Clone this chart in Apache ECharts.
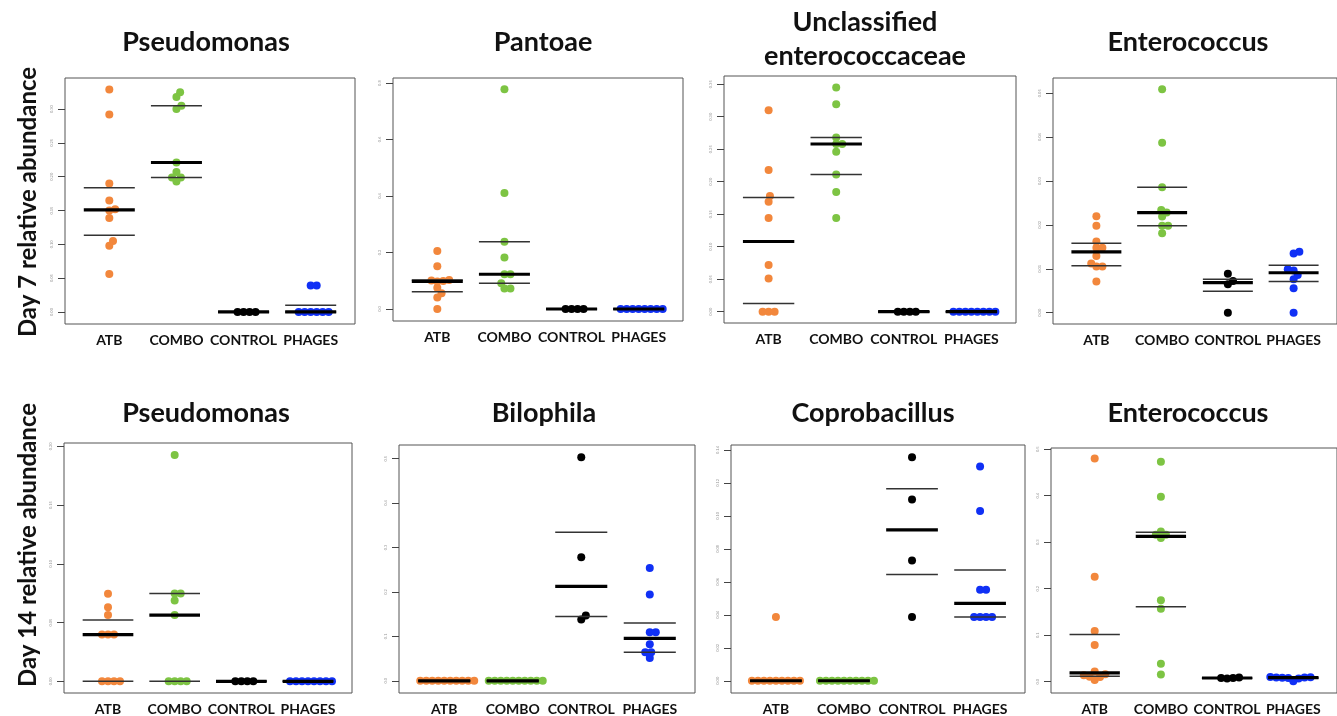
<!DOCTYPE html>
<html><head><meta charset="utf-8">
<script src="https://cdn.jsdelivr.net/npm/echarts@6/dist/echarts.min.js"></script>
<style>html,body{margin:0;padding:0;background:#fff}#c{width:1337px;height:716px}</style>
</head><body><div id="c"></div>
<script>
// ---------- DATA ----------
const groups = ['ATB', 'COMBO', 'CONTROL', 'PHAGES'];
const panelTitles = ['Pseudomonas', 'Pantoae', 'Unclassified\nenterococcaceae', 'Enterococcus',
                     'Pseudomonas', 'Bilophila', 'Coprobacillus', 'Enterococcus'];
const rowTitles = ['Day 7 relative abundance', 'Day 14 relative abundance'];

// Day 7 - Pseudomonas
const d7PseudoATB = [0.329, 0.292, 0.190, 0.165, 0.152, 0.150, 0.139, 0.105, 0.098, 0.056];
const d7PseudoCOMBO = [0.325, 0.318, 0.305, 0.300, 0.221, 0.207, 0.199, 0.199, 0.193];
const d7PseudoCONTROL = [0, 0, 0, 0];
const d7PseudoPHAGES = [0.039, 0.039, 0, 0, 0, 0, 0, 0];
const d7PseudoTicks = [0, 0.05, 0.10, 0.15, 0.20, 0.25, 0.30];

// Day 7 - Pantoae
const d7PantoATB = [0.205, 0.151, 0.103, 0.101, 0.099, 0.097, 0.075, 0.056, 0.041, 0];
const d7PantoCOMBO = [0.778, 0.411, 0.238, 0.182, 0.123, 0.123, 0.091, 0.073, 0.073];
const d7PantoCONTROL = [0, 0, 0, 0];
const d7PantoPHAGES = [0, 0, 0, 0, 0, 0, 0, 0];
const d7PantoTicks = [0, 0.2, 0.4, 0.6, 0.8];

// Day 7 - Unclassified enterococcaceae
const d7EnterocATB = [0.310, 0.218, 0.178, 0.169, 0.144, 0.072, 0.051, 0, 0, 0];
const d7EnterocCOMBO = [0.345, 0.319, 0.268, 0.258, 0.258, 0.246, 0.211, 0.184, 0.144];
const d7EnterocCONTROL = [0, 0, 0, 0];
const d7EnterocPHAGES = [0, 0, 0, 0, 0, 0, 0, 0];
const d7EnterocTicks = [0, 0.05, 0.10, 0.15, 0.20, 0.25, 0.30, 0.35];

// Day 7 - Enterococcus
const d7EntATB = [0.0220, 0.0198, 0.0162, 0.0148, 0.0148, 0.0129, 0.0112, 0.0105, 0.0105, 0.0071];
const d7EntCOMBO = [0.0509, 0.0387, 0.0286, 0.0234, 0.0228, 0.0219, 0.0198, 0.0198, 0.0181];
const d7EntCONTROL = [0.0089, 0.0072, 0.0065, 0];
const d7EntPHAGES = [0.0139, 0.0135, 0.0099, 0.0096, 0.0086, 0.0076, 0.0056, 0];
const d7EntTicks = [0, 0.01, 0.02, 0.03, 0.04, 0.05];

// Day 14 - Pseudomonas
const d14PseudoATB = [0.0746, 0.063, 0.0564, 0.0398, 0.0398, 0.0398, 0, 0, 0, 0];
const d14PseudoCOMBO = [0.1926, 0.0748, 0.0748, 0.0689, 0.0564, 0, 0, 0, 0];
const d14PseudoCONTROL = [0, 0, 0, 0];
const d14PseudoPHAGES = [0, 0, 0, 0, 0, 0, 0, 0];
const d14PseudoTicks = [0, 0.05, 0.10, 0.15, 0.20];

// Day 14 - Bilophila
const d14BiloATB = [0, 0, 0, 0, 0, 0, 0, 0, 0, 0];
const d14BiloCOMBO = [0, 0, 0, 0, 0, 0, 0, 0, 0, 0];
const d14BiloCONTROL = [0.503, 0.278, 0.1467, 0.138];
const d14BiloPHAGES = [0.254, 0.194, 0.109, 0.109, 0.082, 0.064, 0.064, 0.051];
const d14BiloTicks = [0, 0.1, 0.2, 0.3, 0.4, 0.5];

// Day 14 - Coprobacillus
const d14CoproATB = [0.0387, 0, 0, 0, 0, 0, 0, 0, 0, 0];
const d14CoproCOMBO = [0, 0, 0, 0, 0, 0, 0, 0, 0, 0];
const d14CoproCONTROL = [0.1356, 0.110, 0.073, 0.0387];
const d14CoproPHAGES = [0.130, 0.103, 0.0552, 0.0552, 0.0387, 0.0387, 0.0387, 0.0387];
const d14CoproTicks = [0, 0.02, 0.04, 0.06, 0.08, 0.10, 0.12, 0.14];

// Day 14 - Enterococcus
const d14EntATB = [0.480, 0.226, 0.109, 0.079, 0.022, 0.016, 0.014, 0.011, 0.010, 0.004];
const d14EntCOMBO = [0.473, 0.398, 0.323, 0.316, 0.316, 0.309, 0.175, 0.157, 0.0385, 0.0158];
const d14EntCONTROL = [0.009, 0.008, 0.008, 0.007];
const d14EntPHAGES = [0.010, 0.0095, 0.009, 0.009, 0.0085, 0.008, 0.007, 0.001];
const d14EntTicks = [0, 0.1, 0.2, 0.3, 0.4, 0.5];

// ---------- LAYOUT / STYLE ----------
const panelsData = [
  [d7PseudoATB, d7PseudoCOMBO, d7PseudoCONTROL, d7PseudoPHAGES],
  [d7PantoATB, d7PantoCOMBO, d7PantoCONTROL, d7PantoPHAGES],
  [d7EnterocATB, d7EnterocCOMBO, d7EnterocCONTROL, d7EnterocPHAGES],
  [d7EntATB, d7EntCOMBO, d7EntCONTROL, d7EntPHAGES],
  [d14PseudoATB, d14PseudoCOMBO, d14PseudoCONTROL, d14PseudoPHAGES],
  [d14BiloATB, d14BiloCOMBO, d14BiloCONTROL, d14BiloPHAGES],
  [d14CoproATB, d14CoproCOMBO, d14CoproCONTROL, d14CoproPHAGES],
  [d14EntATB, d14EntCOMBO, d14EntCONTROL, d14EntPHAGES]
];
const panelTicks = [d7PseudoTicks, d7PantoTicks, d7EnterocTicks, d7EntTicks,
                    d14PseudoTicks, d14BiloTicks, d14CoproTicks, d14EntTicks];
const tickDecimals = [2, 1, 2, 2, 2, 1, 2, 1];
const boxes = [
  {left: 65, top: 78, width: 290, height: 246},
  {left: 393, top: 78, width: 290, height: 243},
  {left: 724, top: 76, width: 292, height: 247},
  {left: 1053, top: 78, width: 291, height: 246},
  {left: 64, top: 443, width: 288, height: 251},
  {left: 399, top: 445, width: 296, height: 250},
  {left: 731, top: 445, width: 294, height: 249},
  {left: 1051, top: 448, width: 295, height: 246}
];
const yRanges = [
  [-0.0178, 0.346], [-0.0425, 0.818], [-0.0174, 0.3626], [-0.00257, 0.05346],
  [-0.0099, 0.2028], [-0.0275, 0.5306], [-0.00743, 0.1430], [-0.0242, 0.5026]
];
const titlePos = [[206, 42], [543, 42], [865, 39], [1188, 42],
                  [206, 413], [544, 413], [873, 413], [1188, 413]];
const rowTitlePos = [[28, 202], [28, 545]];
const groupColors = ['#F2873C', '#7DC443', '#000000', '#1030F5'];
const FONT = 'Lato';
const DOT_GAP = 6;

// R type-7 quantile
function quant(arr, p) {
  const s = [...arr].sort((a, b) => a - b);
  const h = (s.length - 1) * p, lo = Math.floor(h);
  const hi = Math.min(lo + 1, s.length - 1);
  return s[lo] + (h - lo) * (s[hi] - s[lo]);
}

// beeswarm ("swarm") placement: x offsets in pixels
function swarm(vals, ppu, d) {
  const order = vals.map((v, i) => i).sort((a, b) => vals[a] - vals[b]);
  const placed = [];
  const off = new Array(vals.length);
  for (const i of order) {
    const y = vals[i] * ppu;
    const cands = [0];
    for (const p of placed) {
      const dy = Math.abs(p.y - y);
      if (dy < d) {
        const dx = Math.sqrt(d * d - dy * dy);
        cands.push(p.x + dx, p.x - dx);
      }
    }
    let best = null;
    for (const c of cands) {
      let ok = true;
      for (const p of placed) {
        const dx = c - p.x, dy = y - p.y;
        if (dx * dx + dy * dy < d * d - 1e-6) { ok = false; break; }
      }
      if (!ok) continue;
      if (best === null || Math.abs(c) < Math.abs(best) - 1e-9 ||
          (Math.abs(Math.abs(c) - Math.abs(best)) < 1e-9 && c > best)) best = c;
    }
    placed.push({x: best, y});
    off[i] = best;
  }
  return off;
}

const grids = [], xAxes = [], yAxes = [], series = [], graphics = [];

panelsData.forEach((pd, pi) => {
  const b = boxes[pi];
  grids.push({left: b.left, top: b.top, width: b.width, height: b.height,
              show: true, borderColor: '#555', borderWidth: 1, backgroundColor: 'transparent'});
  xAxes.push({
    gridIndex: pi, type: 'value', min: 0.34, max: 4.66,
    axisLine: {show: false}, axisTick: {show: false}, splitLine: {show: false},
    axisLabel: {customValues: [1, 2, 3, 4], formatter: v => groups[Math.round(v) - 1],
                fontFamily: FONT, fontWeight: 'bold', fontSize: 14, color: '#111', margin: 9}
  });
  const dec = tickDecimals[pi];
  yAxes.push({
    gridIndex: pi, type: 'value', min: yRanges[pi][0], max: yRanges[pi][1],
    axisLine: {show: false}, splitLine: {show: false},
    axisTick: {show: true, customValues: panelTicks[pi], length: 7, lineStyle: {color: '#444', width: 1}},
    axisLabel: {customValues: panelTicks[pi], formatter: v => v.toFixed(dec),
                rotate: 90, fontSize: 4, color: '#999', margin: 11, fontFamily: FONT}
  });
  const ppu = b.height / (yRanges[pi][1] - yRanges[pi][0]);
  pd.forEach((vals, gi) => {
    const offs = swarm(vals, ppu, DOT_GAP);
    series.push({
      type: 'scatter', xAxisIndex: pi, yAxisIndex: pi, symbol: 'circle', symbolSize: 8,
      itemStyle: {color: groupColors[gi], opacity: 1}, z: 2, silent: true,
      data: vals.map((v, k) => ({value: [gi + 1, v], symbolOffset: [offs[k], 0]}))
    });
  });
  // median & quartile lines computed from the data
  const lineData = [];
  pd.forEach((vals, gi) => {
    lineData.push([gi + 1, quant(vals, 0.25), 0]);
    lineData.push([gi + 1, quant(vals, 0.75), 0]);
  });
  pd.forEach((vals, gi) => lineData.push([gi + 1, quant(vals, 0.5), 1]));
  series.push({
    type: 'custom', xAxisIndex: pi, yAxisIndex: pi, z: 5, silent: true,
    renderItem: (params, api) => {
      const c = api.value(0), v = api.value(1), thick = api.value(2) === 1;
      const p1 = api.coord([c - 0.38, v]), p2 = api.coord([c + 0.38, v]);
      return {type: 'line', shape: {x1: p1[0], y1: p1[1], x2: p2[0], y2: p2[1]},
              style: {stroke: thick ? '#000' : '#333', lineWidth: thick ? 3.2 : 1.5}};
    },
    data: lineData
  });
  graphics.push({
    type: 'text', x: titlePos[pi][0], y: titlePos[pi][1],
    style: {text: panelTitles[pi], fill: '#111', font: 'bold 27px ' + FONT,
            align: 'center', verticalAlign: 'middle', lineHeight: 34}
  });
});

rowTitles.forEach((t, ri) => {
  graphics.push({
    type: 'text', x: rowTitlePos[ri][0], y: rowTitlePos[ri][1], rotation: Math.PI / 2,
    style: {text: t, fill: '#111', font: 'bold 24px ' + FONT, align: 'center', verticalAlign: 'middle'}
  });
});

const chart = echarts.init(document.getElementById('c'), null, {renderer: 'canvas'});
chart.setOption({
  animation: false,
  backgroundColor: '#fff',
  grid: grids, xAxis: xAxes, yAxis: yAxes, series: series, graphic: graphics
});
</script>
</body></html>
